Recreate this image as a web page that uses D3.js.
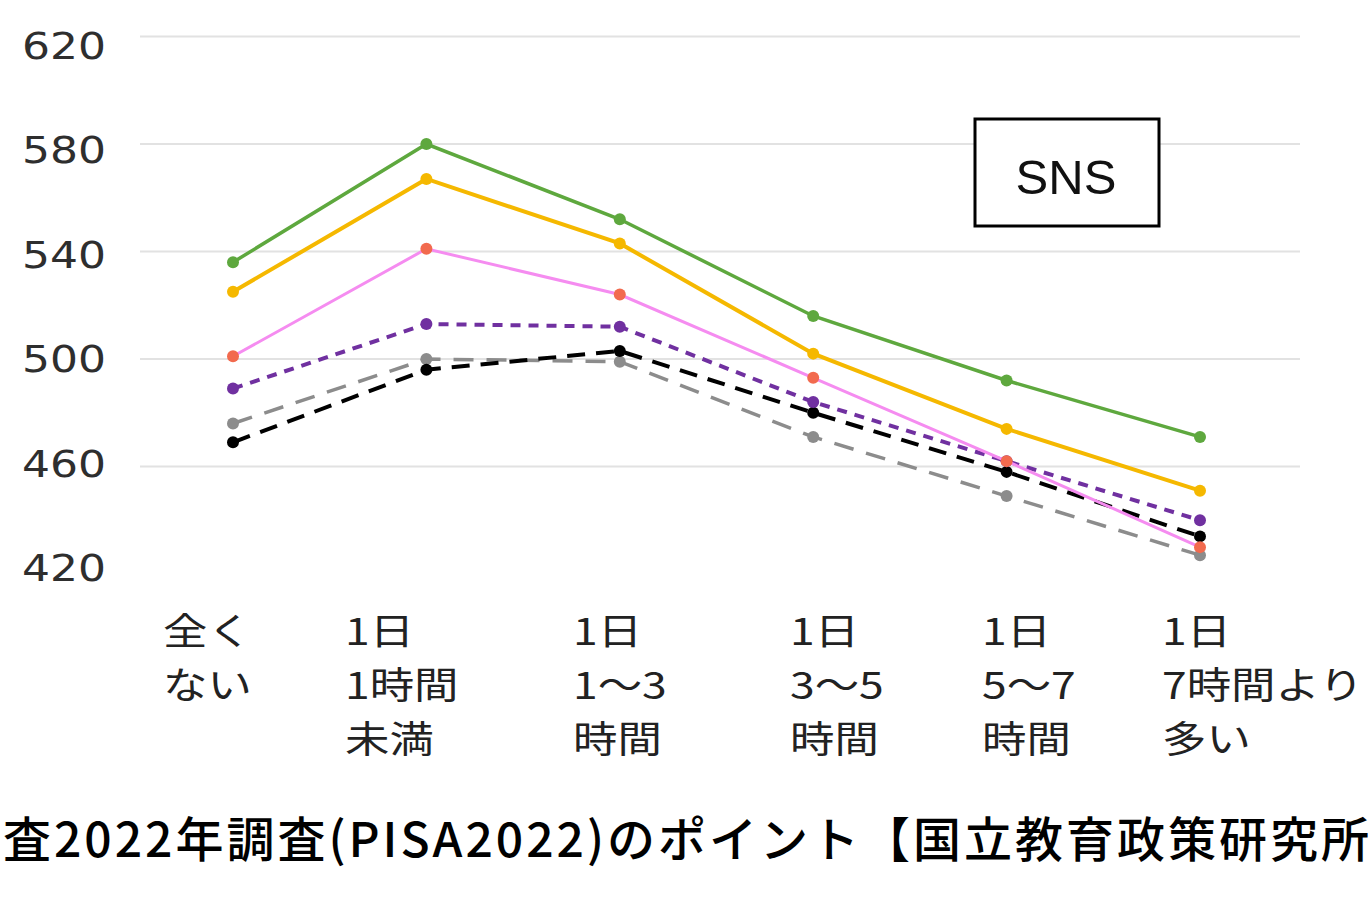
<!DOCTYPE html>
<html>
<head>
<meta charset="utf-8">
<script src="https://cdn.jsdelivr.net/npm/d3@7"></script>
<style>
  body { margin: 0; background: #fff; overflow: hidden; }
</style>
</head>
<body>
<svg id="chart" width="1372" height="909"></svg>
<script>
var categories = ["全くない", "1日1時間未満", "1日1～3時間", "1日3～5時間", "1日5～7時間", "1日7時間より多い"];
var catLines = [["全く", "ない"], ["1日", "1時間", "未満"], ["1日", "1～3", "時間"],
                ["1日", "3～5", "時間"], ["1日", "5～7", "時間"], ["1日", "7時間より", "多い"]];
var yTicks = [420, 460, 500, 540, 580, 620];

var greenVals  = [536, 580, 552, 516, 492, 471];
var yellowVals = [525, 567, 543, 502, 474, 451];
var pinkVals   = [501, 541, 524, 493, 462, 430];
var purpleVals = [489, 513, 512, 484, 462, 440];
var grayVals   = [476, 500, 499, 471, 449, 427];
var blackVals  = [469, 496, 503, 480, 458, 434];

var boxLabel = "SNS";
var caption = "査2022年調査(PISA2022)のポイント【国立教育政策研究所";

// layout
var labelLeft = [163, 345, 573, 790, 982, 1162];
var TXT_COL = "#2e2e2e";

var svg = d3.select("#chart");

var x = d3.scalePoint()
    .domain(categories)
    .range([233, 1200]);

var y = d3.scaleLinear()
    .domain([420, 620])
    .range([574, 36.5]);

// tick labels sit a bit off the grid in the original
var yLab = d3.scaleLinear()
    .domain([420, 620])
    .range([567, 45]);

// grid lines
svg.append("g")
    .selectAll("line")
    .data(yTicks.filter(d => d > 420))
    .enter()
    .append("line")
    .attr("x1", 140)
    .attr("x2", 1300)
    .attr("y1", d => y(d))
    .attr("y2", d => y(d))
    .style("stroke", "#e2e2e2")
    .style("stroke-width", 2);

// y labels
svg.append("g")
    .selectAll("text")
    .data(yTicks)
    .enter()
    .append("text")
    .attr("x", 22)
    .attr("y", d => yLab(d) + 14)
    .attr("textLength", 84)
    .attr("lengthAdjust", "spacingAndGlyphs")
    .text(d => d)
    .style("font-family", "DejaVu Sans")
    .style("font-size", "38px")
    .style("fill", TXT_COL);

// x labels
var xl = svg.append("g");
catLines.forEach(function(lines, i) {
    lines.forEach(function(s, j) {
        xl.append("text")
            .attr("transform", "translate(" + labelLeft[i] + "," + (645 + j * 54) + ") scale(1.2,1)")
            .text(s)
            .style("font-family", "Noto Sans CJK JP")
            .style("font-size", "37px")
            .style("fill", "#222");
    });
});

var series = [
    {vals: grayVals,   col: "#8c8c8c", mk: "#8c8c8c", w: 3.5, dash: "20,13"},
    {vals: blackVals,  col: "#000",    mk: "#000",    w: 4,   dash: "18,11"},
    {vals: purpleVals, col: "#7030a0", mk: "#7030a0", w: 4,   dash: "10,8"},
    {vals: pinkVals,   col: "#f58cf0", mk: "#f26a4e", w: 3,   dash: null},
    {vals: yellowVals, col: "#f5b800", mk: "#f5b800", w: 4,   dash: null},
    {vals: greenVals,  col: "#5ea83e", mk: "#5ea83e", w: 3.5, dash: null}
];

var line = d3.line()
    .x((d, i) => x(categories[i]))
    .y(d => y(d));

series.forEach(function(s) {
    svg.append("path")
        .datum(s.vals)
        .attr("d", line)
        .style("fill", "none")
        .style("stroke", s.col)
        .style("stroke-width", s.w)
        .style("stroke-dasharray", s.dash);

    svg.append("g")
        .selectAll("circle")
        .data(s.vals)
        .enter()
        .append("circle")
        .attr("cx", (d, i) => x(categories[i]))
        .attr("cy", d => y(d))
        .attr("r", 6)
        .style("fill", s.mk);
});

// SNS box
svg.append("rect")
    .attr("x", 975)
    .attr("y", 119)
    .attr("width", 184)
    .attr("height", 107)
    .style("fill", "#fff")
    .style("stroke", "#000")
    .style("stroke-width", 3);

svg.append("text")
    .attr("x", 1066)
    .attr("y", 194)
    .attr("text-anchor", "middle")
    .text(boxLabel)
    .style("font-family", "Liberation Sans")
    .style("font-size", "49px")
    .style("fill", "#111");

// caption stretched across the full width
svg.append("text")
    .attr("x", 3)
    .attr("y", 857)
    .attr("textLength", 1366)
    .attr("lengthAdjust", "spacing")
    .text(caption)
    .style("font-family", "Noto Sans CJK JP")
    .style("font-size", "48px")
    .style("font-weight", 500)
    .style("fill", "#000");
</script>
</body>
</html>
